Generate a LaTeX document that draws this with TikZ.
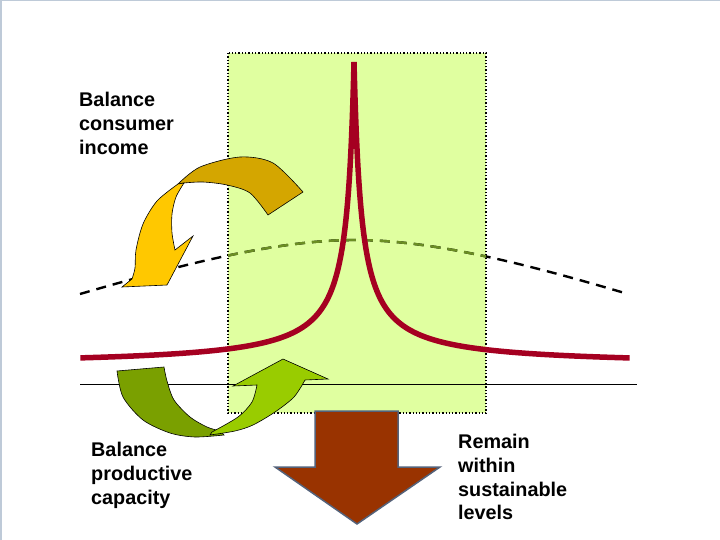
\documentclass[tikz,border=0pt]{standalone}
\usepackage{fontspec}
\setmainfont{Liberation Sans}
\begin{document}
\begin{tikzpicture}[x=1pt,y=-1pt,
  lbl/.style={anchor=north west,inner sep=0pt,align=left,font=\fontsize{19.8}{23.8}\selectfont\bfseries},
  dashline/.style={line width=2.4pt,dash pattern=on 10pt off 7pt},
  arrowedge/.style={draw=black,line width=0.6pt,line join=miter}]
\definecolor{boxfill}{RGB}{224,255,160}
\definecolor{peakred}{RGB}{165,0,33}
\definecolor{olivedash}{RGB}{107,142,35}
\definecolor{darkgold}{RGB}{212,166,0}
\definecolor{goldyellow}{RGB}{255,200,0}
\definecolor{darkgreen}{RGB}{122,160,0}
\definecolor{lightgreen}{RGB}{153,204,0}
\definecolor{brown}{RGB}{153,51,0}
\definecolor{slate}{RGB}{84,98,122}
\definecolor{framec}{RGB}{190,202,216}
\useasboundingbox (0,0) rectangle (720,540);
\fill[white] (0,0) rectangle (720,540);
\draw[framec,line width=1.5pt] (0.75,540) -- (0.75,0.75) -- (720,0.75);
% green box
\fill[boxfill] (228,53) rectangle (486,413);
\draw[black,dotted,line width=1.3pt] (228,53) rectangle (486,413);
% base line
\draw[black,line width=0.8pt] (80,384) -- (637,384);
% dashed curve
\def\dashcurve{(80,294) .. controls (190,262) and (280,240) .. (355,240) .. controls (430,240) and (520,262) .. (628,294)}
\draw[dashline,black] \dashcurve;
\begin{scope}
\clip (228,53) rectangle (486,413);
\draw[dashline,olivedash] \dashcurve;
\end{scope}
% red peak curve
\draw[peakred,line width=5.5pt] plot[domain=0:1,samples=160] ({354-274*(\x)^3},{366-304/(1+274*(\x)^3/7.5)});
\draw[peakred,line width=5.5pt] plot[domain=0:1,samples=160] ({354+276*(\x)^3},{366-304/(1+276*(\x)^3/7.5)});
% consumer income arrows
\path[arrowedge,fill=darkgold] plot[smooth] coordinates {(178,184) (200,167) (240,157) (273,163) (303,192)}
  -- (268,215) -- plot[smooth] coordinates {(268,215) (250,193) (227,185) (203,182) (184,183)} -- cycle;
\path[arrowedge,fill=goldyellow] plot[smooth] coordinates {(178,184) (157,201) (143,224) (136,250) (135,268) (132,279)}
  -- (122,287) -- (167,285) -- (193,236) -- (175,250)
  -- plot[smooth] coordinates {(175,250) (172,233) (172,214) (176,197) (184,183)} -- cycle;
% productive capacity arrows
\path[arrowedge,fill=darkgreen] (117,371) -- (164,367)
  -- plot[smooth] coordinates {(164,367) (167,381) (174,400) (190,417) (207,427) (220,431)}
  -- (224,435) -- plot[smooth] coordinates {(224,435) (195,437) (170,433) (143,420) (123,397) (117,371)} -- cycle;
\path[arrowedge,fill=lightgreen] plot[smooth] coordinates {(210,435) (235,431) (253,425) (275,412) (294,397) (305,380)}
  -- (328,379) -- (283,359) -- (233,386) -- (257,385)
  -- plot[smooth] coordinates {(257,385) (252,402) (238,417) (212,432)} -- cycle;
% sustainable arrow
\path[draw=slate,line width=1.5pt,fill=brown,line join=miter] (315,411) -- (398,411) -- (398,467) -- (440,467) -- (357,524) -- (275,467) -- (315,467) -- cycle;
% labels
\node[lbl] (income) at (79,92) {Balance\\consumer\\income};
\node[lbl] (capacity) at (91,442) {Balance\\productive\\capacity};
\node[lbl] (levels) at (458,434) {Remain\\within\\sustainable\\levels};
\end{tikzpicture}
\end{document}
